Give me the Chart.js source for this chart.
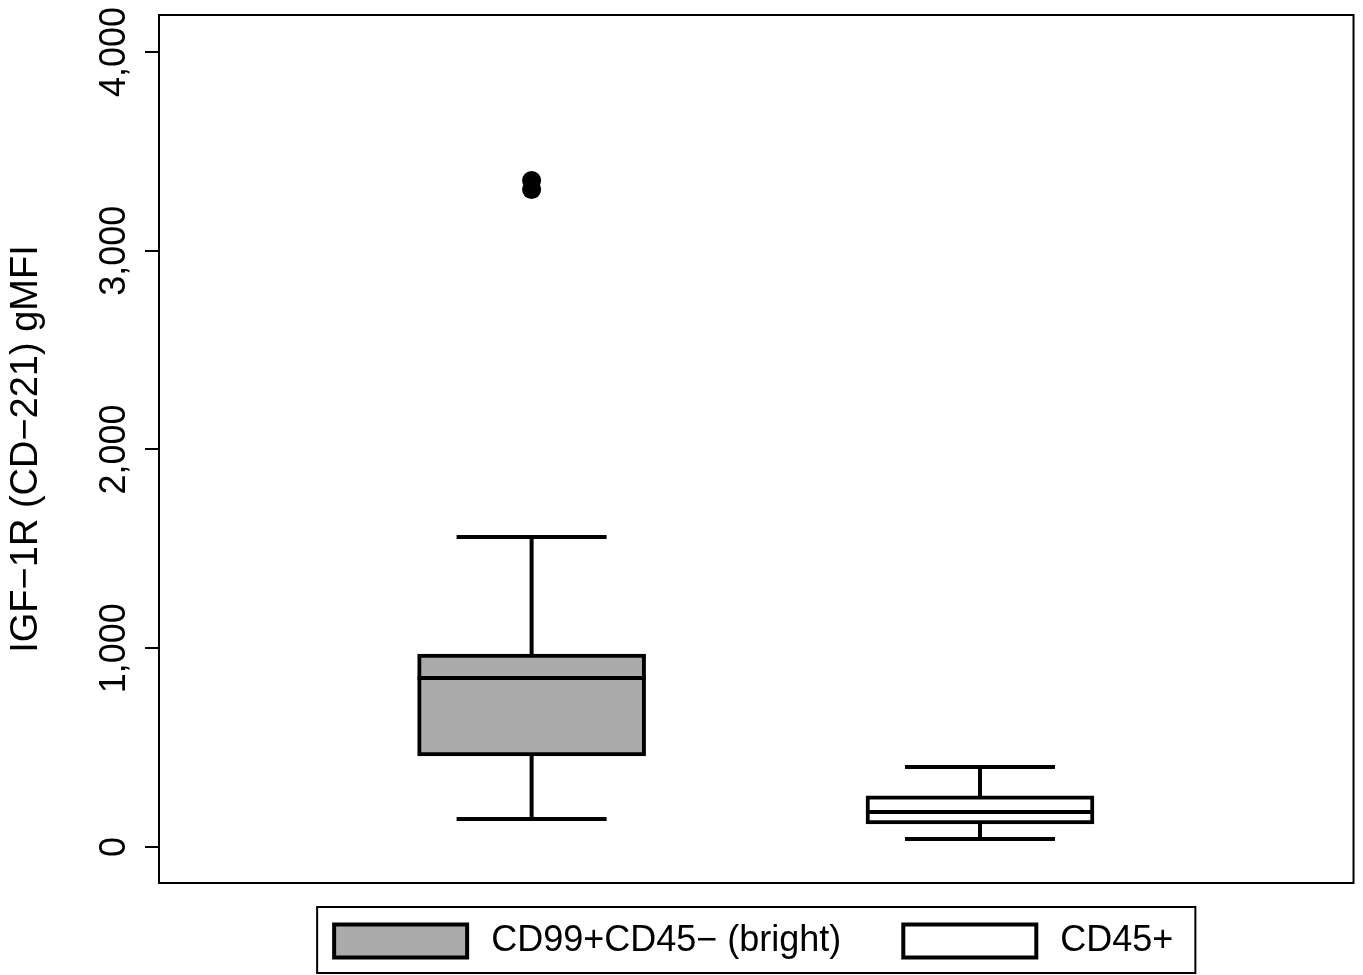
<!DOCTYPE html>
<html><head><meta charset="utf-8">
<script src="https://cdn.jsdelivr.net/npm/chart.js@4"></script>
<style>html,body{margin:0;padding:0;background:#fff}#wrap{width:1363px;height:975px;position:relative}</style>
</head><body><div id="wrap"><canvas id="c" width="1363" height="975"></canvas></div>
<script>
// ---- data ----
const groups = ['CD99+CD45\u2212 (bright)', 'CD45+'];
const groupPos = [1, 2];
const whiskerLow = [141, 40];
const q1 = [458, 116];
const median = [850, 176];
const q3 = [971, 257];
const whiskerHigh = [1560, 403];
const outlierGroup = [1, 1];
const outlierValues = [3353, 3308];
const yTicks = [0, 1000, 2000, 3000, 4000];
const yTitle = 'IGF\u22121R (CD\u2212221) gMFI';

// ---- styles ----
const fills = ['#ababab', '#ffffff'];
const FONT = 'Liberation Sans, Arial, Helvetica, sans-serif';
const BOX_W = 228, CAP_W = 150, LW = 4;

const datasets = groups.map((g, i) => ({
  type: 'bar',
  label: g,
  data: [{x: groupPos[i], y: [q1[i], q3[i]]}],
  backgroundColor: fills[i],
  borderColor: '#000',
  borderWidth: LW,
  borderSkipped: false,
  barThickness: BOX_W,
  grouped: false,
  order: 2
}));
datasets.push({
  type: 'scatter',
  label: 'outliers',
  data: outlierValues.map((v, i) => ({x: outlierGroup[i], y: v})),
  pointRadius: 9.5,
  pointHoverRadius: 9.5,
  backgroundColor: '#000',
  borderColor: '#000',
  borderWidth: 0,
  order: 1
});

const boxExtras = {
  id: 'boxExtras',
  beforeDatasetsDraw(chart) {
    const {ctx, scales: {x, y}} = chart;
    ctx.save();
    ctx.strokeStyle = '#000'; ctx.lineWidth = LW; ctx.lineCap = 'butt';
    groups.forEach((g, i) => {
      const px = x.getPixelForValue(groupPos[i]);
      ctx.beginPath();
      ctx.moveTo(px, y.getPixelForValue(q3[i])); ctx.lineTo(px, y.getPixelForValue(whiskerHigh[i]));
      ctx.moveTo(px, y.getPixelForValue(q1[i])); ctx.lineTo(px, y.getPixelForValue(whiskerLow[i]));
      ctx.moveTo(px - CAP_W / 2, y.getPixelForValue(whiskerHigh[i])); ctx.lineTo(px + CAP_W / 2, y.getPixelForValue(whiskerHigh[i]));
      ctx.moveTo(px - CAP_W / 2, y.getPixelForValue(whiskerLow[i])); ctx.lineTo(px + CAP_W / 2, y.getPixelForValue(whiskerLow[i]));
      ctx.stroke();
    });
    ctx.restore();
  },
  afterDatasetsDraw(chart) {
    const {ctx, scales: {x, y}} = chart;
    ctx.save();
    ctx.strokeStyle = '#000'; ctx.lineWidth = LW;
    groups.forEach((g, i) => {
      const px = x.getPixelForValue(groupPos[i]);
      const py = y.getPixelForValue(median[i]);
      ctx.beginPath();
      ctx.moveTo(px - BOX_W / 2, py); ctx.lineTo(px + BOX_W / 2, py);
      ctx.stroke();
    });
    ctx.restore();
  },
  afterDraw(chart) {
    const {ctx, chartArea: a} = chart;
    ctx.save();
    // plot frame
    ctx.strokeStyle = '#000'; ctx.lineWidth = 2;
    ctx.strokeRect(a.left, a.top, a.right - a.left, a.bottom - a.top);
    // legend
    ctx.font = '36px ' + FONT;
    const sw = 137, sh = 37, gap = 22, itemGap = 60, padL = 15, padR = 22;
    const items = chart.data.datasets.filter(d => d.type === 'bar');
    const tw = items.map(d => ctx.measureText(d.label).width);
    let total = padL + padR;
    items.forEach((d, i) => { total += sw + gap + tw[i] + (i ? itemGap : 0); });
    const cx = (a.left + a.right) / 2;
    const fl = cx - total / 2, ft = 907, fh = 66;
    ctx.lineWidth = 2;
    ctx.strokeRect(fl, ft, total, fh);
    const cy = ft + fh / 2 + 1;
    let xx = fl + padL;
    items.forEach((d, i) => {
      ctx.fillStyle = d.backgroundColor;
      ctx.fillRect(xx + 2, cy - sh / 2 + 2, sw - 4, sh - 4);
      ctx.lineWidth = 4; ctx.strokeStyle = '#000';
      ctx.strokeRect(xx + 2, cy - sh / 2 + 2, sw - 4, sh - 4);
      ctx.fillStyle = '#000';
      ctx.textAlign = 'left'; ctx.textBaseline = 'middle';
      ctx.fillText(d.label, xx + sw + gap, cy);
      xx += sw + gap + tw[i] + itemGap;
    });
    ctx.restore();
  }
};

new Chart(document.getElementById('c'), {
  type: 'bar',
  data: {datasets},
  options: {
    responsive: false,
    animation: false,
    events: [],
    layout: {padding: {top: 15, right: 8, bottom: 92, left: 0}},
    plugins: {legend: {display: false}, tooltip: {enabled: false}},
    scales: {
      x: {type: 'linear', min: 0.169, max: 2.833, offset: false, display: false},
      y: {
        type: 'linear',
        min: -181, max: 4186,
        afterFit: s => { s.width = 159; },
        afterBuildTicks: s => { s.ticks = yTicks.map(v => ({value: v})); },
        border: {display: true, color: '#000', width: 2},
        grid: {drawOnChartArea: false, drawTicks: true, tickLength: 14, color: '#000', lineWidth: 2},
        ticks: {
          minRotation: 90, maxRotation: 90, crossAlign: 'center', padding: -15,
          color: '#000', font: {family: FONT, size: 36}
        },
        title: {display: true, text: yTitle, color: '#000', font: {family: FONT, size: 38}, padding: {top: 4, bottom: 0}}
      }
    }
  },
  plugins: [boxExtras]
});
</script>
</body></html>
